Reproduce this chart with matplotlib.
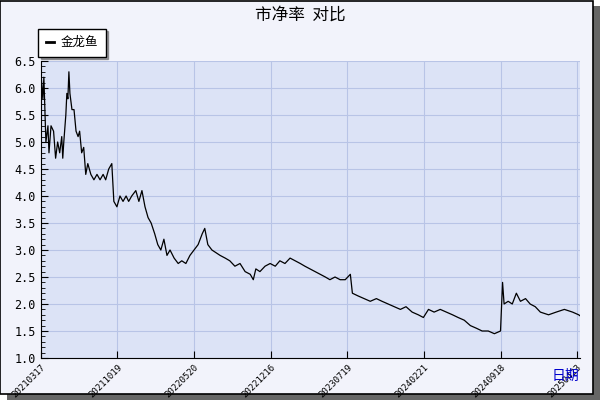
import matplotlib
matplotlib.use("Agg")
import matplotlib.pyplot as plt
from matplotlib.patches import Rectangle
from matplotlib.ticker import MultipleLocator

plt.rcParams['font.family'] = ['Noto Sans CJK SC', 'DejaVu Sans']

day_idx = [0,4,6,10,14,16,20,25,29,33,37,41,43,45,49,51,53,55,57,61,65,69,73,76,80,84,88,92,98,104,110,116,122,127,133,139,143,149,155,161,167,172,178,186,192,198,204,210,216,223,229,235,241,247,253,261,269,276,284,292,300,308,316,321,327,335,343,351,361,370,380,390,400,410,416,421,429,439,449,459,468,478,488,498,508,517,527,537,547,557,566,576,586,596,606,610,621,633,645,657,668,680,692,704,715,727,739,749,759,770,782,794,806,817,829,841,853,864,876,888,900,904,907,915,923,931,939,949,958,968,978,994,1009,1025,1041,1053,1056]
pb = [6.3,5.8,6.2,5.0,5.3,4.8,5.3,5.2,4.7,5.0,4.8,5.1,4.7,5.0,5.5,5.9,5.8,6.3,5.9,5.6,5.6,5.2,5.1,5.2,4.8,4.9,4.4,4.6,4.4,4.3,4.4,4.3,4.4,4.3,4.5,4.6,3.9,3.8,4.0,3.9,4.0,3.9,4.0,4.1,3.9,4.1,3.8,3.6,3.5,3.3,3.1,3.0,3.2,2.9,3.0,2.85,2.75,2.8,2.75,2.9,3.0,3.1,3.3,3.4,3.1,3.0,2.95,2.9,2.85,2.8,2.7,2.75,2.6,2.55,2.45,2.65,2.6,2.7,2.75,2.7,2.8,2.75,2.85,2.8,2.75,2.7,2.65,2.6,2.55,2.5,2.45,2.5,2.45,2.45,2.55,2.2,2.15,2.1,2.05,2.1,2.05,2.0,1.95,1.9,1.95,1.85,1.8,1.75,1.9,1.85,1.9,1.85,1.8,1.75,1.7,1.6,1.55,1.5,1.5,1.45,1.5,2.4,2.0,2.05,2.0,2.2,2.05,2.1,2.0,1.95,1.85,1.8,1.85,1.9,1.85,1.8,1.78]
tick_idx = [0,150,300,450,600,750,900,1050]
tick_labels = ["20210317","20211019","20220520","20221216","20230719","20240221","20240918","20250423"]
series_name = "金龙鱼"
title = "市净率  对比"

fig = plt.figure(figsize=(6,4), dpi=100, facecolor='white')
fig.patches.append(Rectangle((0.012,0.0), 0.988, 0.985, transform=fig.transFigure, facecolor='#666666', edgecolor='none', zorder=-3))
fig.patches.append(Rectangle((0.0,0.015), 0.988, 0.983, transform=fig.transFigure, facecolor='#f2f3fb', edgecolor='black', lw=1.2, zorder=-2))

ax = fig.add_axes([0.068, 0.105, 0.899, 0.7425])
ax.set_facecolor('#dce3f6')
ax.plot(day_idx, pb, color='black', lw=0.9)
ax.set_xlim(0, 1056)
ax.set_ylim(1.0, 6.5)
ax.yaxis.set_major_locator(MultipleLocator(0.5))
ax.yaxis.set_minor_locator(MultipleLocator(0.1))
ax.set_xticks(tick_idx)
ax.set_xticklabels(tick_labels, rotation=45, ha='right', rotation_mode='anchor', fontsize=6.5, family='DejaVu Sans Mono')
for lab in ax.get_yticklabels():
    lab.set_family('DejaVu Sans Mono')
ax.tick_params(axis='y', labelsize=8.5, direction='in', length=5)
ax.tick_params(axis='y', which='minor', direction='in', length=3)
ax.tick_params(axis='x', direction='in', length=5)
ax.grid(True, color='#b8c4e6', lw=0.8)
ax.set_axisbelow(True)
for s in ['top','right']:
    ax.spines[s].set_visible(False)
fig.text(0.5, 0.962, title, ha='center', va='center', fontsize=12)
fig.text(0.965, 0.06, "日期", ha='right', va='center', fontsize=10, color='#0000cc')
leg = ax.legend([series_name], loc='lower left', bbox_to_anchor=(-0.005, 1.015), fancybox=False, edgecolor='black', fontsize=9, handlelength=0.7, handletextpad=0.5, borderpad=0.6, borderaxespad=0, shadow=True)
leg.get_lines()[0].set_linewidth(2)
fig.savefig("out.png", dpi=100)
